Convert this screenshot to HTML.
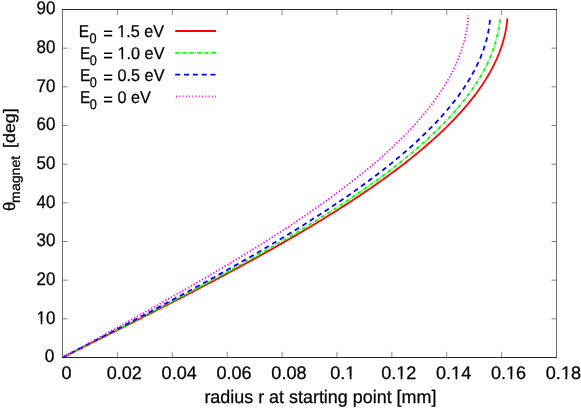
<!DOCTYPE html><html><head><meta charset="utf-8"><style>html,body{margin:0;padding:0;background:#fff;overflow:hidden}svg{display:block;will-change:transform}text{text-rendering:geometricPrecision;font-family:"Liberation Sans",sans-serif;fill:#000;stroke:#000;stroke-width:0.25px}</style></head><body>
<svg width="581" height="409" viewBox="0 0 581 409">
<rect width="581" height="409" fill="#fff"/>
<polyline points="62.50,357.50 67.37,355.08 72.24,352.65 77.10,350.23 81.97,347.81 86.83,345.39 91.69,342.96 96.55,340.54 101.40,338.12 106.25,335.70 111.09,333.27 115.93,330.85 120.76,328.43 125.59,326.00 130.40,323.58 135.21,321.16 140.01,318.74 144.80,316.31 149.58,313.89 154.35,311.47 159.11,309.05 163.86,306.62 168.59,304.20 173.31,301.78 178.02,299.35 182.72,296.93 187.40,294.51 192.07,292.09 196.72,289.66 201.35,287.24 205.97,284.82 210.57,282.39 215.15,279.97 219.72,277.55 224.26,275.13 228.79,272.70 233.30,270.28 237.78,267.86 242.25,265.44 246.69,263.01 251.12,260.59 255.51,258.17 259.89,255.74 264.24,253.32 268.57,250.90 272.88,248.48 277.15,246.05 281.41,243.63 285.63,241.21 289.83,238.79 294.01,236.36 298.15,233.94 302.27,231.52 306.36,229.09 310.42,226.67 314.45,224.25 318.45,221.83 322.42,219.40 326.35,216.98 330.26,214.56 334.13,212.14 337.98,209.71 341.79,207.29 345.56,204.87 349.30,202.44 353.01,200.02 356.68,197.60 360.32,195.18 363.92,192.75 367.49,190.33 371.02,187.91 374.51,185.49 377.96,183.06 381.38,180.64 384.76,178.22 388.10,175.79 391.40,173.37 394.66,170.95 397.89,168.53 401.07,166.10 404.21,163.68 407.31,161.26 410.37,158.84 413.39,156.41 416.37,153.99 419.30,151.57 422.19,149.14 425.04,146.72 427.85,144.30 430.61,141.88 433.32,139.45 436.00,137.03 438.63,134.61 441.21,132.18 443.75,129.76 446.24,127.34 448.69,124.92 451.09,122.49 453.44,120.07 455.75,117.65 458.01,115.23 460.22,112.80 462.39,110.38 464.50,107.96 466.57,105.53 468.59,103.11 470.57,100.69 472.49,98.27 474.36,95.84 476.19,93.42 477.97,91.00 479.69,88.58 481.37,86.15 482.99,83.73 484.57,81.31 486.10,78.88 487.57,76.46 488.99,74.04 490.37,71.62 491.69,69.19 492.96,66.77 494.18,64.35 495.35,61.93 496.46,59.50 497.53,57.08 498.54,54.66 499.50,52.23 500.40,49.81 501.26,47.39 502.06,44.97 502.81,42.54 503.51,40.12 504.15,37.70 504.74,35.28 505.28,32.85 505.77,30.43 506.20,28.01 506.58,25.58 506.91,23.16 507.18,20.74 507.40,18.32" fill="none" stroke="#ff0000" stroke-width="1.8"/>
<polyline points="62.50,357.50 67.28,355.08 72.05,352.67 76.83,350.25 81.60,347.83 86.37,345.42 91.14,343.00 95.90,340.58 100.66,338.17 105.41,335.75 110.16,333.33 114.91,330.92 119.65,328.50 124.38,326.08 129.10,323.67 133.82,321.25 138.53,318.83 143.23,316.42 147.92,314.00 152.59,311.58 157.26,309.17 161.92,306.75 166.57,304.33 171.20,301.92 175.82,299.50 180.42,297.08 185.02,294.67 189.59,292.25 194.16,289.83 198.70,287.42 203.23,285.00 207.75,282.58 212.25,280.17 216.72,277.75 221.18,275.33 225.63,272.92 230.05,270.50 234.45,268.08 238.83,265.67 243.19,263.25 247.53,260.83 251.85,258.42 256.15,256.00 260.42,253.58 264.67,251.17 268.89,248.75 273.09,246.33 277.26,243.92 281.41,241.50 285.54,239.08 289.63,236.67 293.70,234.25 297.74,231.83 301.76,229.42 305.74,227.00 309.70,224.58 313.63,222.17 317.52,219.75 321.39,217.33 325.23,214.92 329.03,212.50 332.80,210.08 336.55,207.67 340.25,205.25 343.93,202.83 347.57,200.42 351.18,198.00 354.75,195.58 358.29,193.17 361.79,190.75 365.26,188.33 368.69,185.92 372.09,183.50 375.45,181.08 378.77,178.67 382.05,176.25 385.30,173.83 388.51,171.42 391.68,169.00 394.80,166.58 397.89,164.17 400.94,161.75 403.95,159.33 406.92,156.92 409.85,154.50 412.74,152.08 415.58,149.67 418.39,147.25 421.15,144.83 423.86,142.42 426.54,140.00 429.17,137.58 431.76,135.17 434.30,132.75 436.80,130.33 439.26,127.92 441.67,125.50 444.03,123.08 446.35,120.67 448.63,118.25 450.86,115.83 453.04,113.42 455.17,111.00 457.26,108.58 459.31,106.17 461.30,103.75 463.25,101.33 465.15,98.92 467.00,96.50 468.80,94.08 470.56,91.67 472.26,89.25 473.92,86.83 475.53,84.42 477.09,82.00 478.60,79.58 480.06,77.17 481.47,74.75 482.84,72.33 484.15,69.92 485.41,67.50 486.62,65.08 487.78,62.67 488.89,60.25 489.95,57.83 490.96,55.42 491.91,53.00 492.82,50.58 493.67,48.17 494.48,45.75 495.23,43.33 495.93,40.92 496.58,38.50 497.18,36.08 497.72,33.67 498.22,31.25 498.66,28.83 499.05,26.42 499.39,24.00 499.68,21.58 499.91,19.17" fill="none" stroke="#00ff00" stroke-width="1.8" stroke-dasharray="3.8 1.35 0.85 1.35"/>
<polyline points="62.50,357.50 67.16,355.09 71.81,352.68 76.47,350.27 81.13,347.86 85.78,345.44 90.43,343.03 95.07,340.62 99.72,338.21 104.35,335.80 108.99,333.39 113.61,330.98 118.24,328.57 122.85,326.16 127.46,323.74 132.06,321.33 136.65,318.92 141.23,316.51 145.81,314.10 150.37,311.69 154.92,309.28 159.47,306.87 164.00,304.45 168.51,302.04 173.02,299.63 177.51,297.22 181.99,294.81 186.46,292.40 190.91,289.99 195.35,287.58 199.77,285.17 204.17,282.75 208.56,280.34 212.93,277.93 217.28,275.52 221.61,273.11 225.92,270.70 230.22,268.29 234.50,265.88 238.75,263.47 242.98,261.05 247.20,258.64 251.39,256.23 255.56,253.82 259.70,251.41 263.82,249.00 267.92,246.59 272.00,244.18 276.04,241.77 280.07,239.35 284.07,236.94 288.04,234.53 291.98,232.12 295.90,229.71 299.79,227.30 303.65,224.89 307.49,222.48 311.29,220.06 315.07,217.65 318.81,215.24 322.53,212.83 326.21,210.42 329.86,208.01 333.49,205.60 337.07,203.19 340.63,200.78 344.16,198.36 347.65,195.95 351.10,193.54 354.52,191.13 357.91,188.72 361.26,186.31 364.58,183.90 367.86,181.49 371.11,179.08 374.32,176.66 377.49,174.25 380.62,171.84 383.72,169.43 386.78,167.02 389.80,164.61 392.78,162.20 395.72,159.79 398.63,157.38 401.49,154.96 404.31,152.55 407.10,150.14 409.84,147.73 412.54,145.32 415.20,142.91 417.82,140.50 420.39,138.09 422.92,135.67 425.41,133.26 427.86,130.85 430.27,128.44 432.63,126.03 434.94,123.62 437.21,121.21 439.44,118.80 441.63,116.39 443.77,113.97 445.86,111.56 447.91,109.15 449.91,106.74 451.87,104.33 453.78,101.92 455.64,99.51 457.46,97.10 459.23,94.69 460.95,92.27 462.63,89.86 464.26,87.45 465.84,85.04 467.37,82.63 468.86,80.22 470.30,77.81 471.68,75.40 473.03,72.99 474.32,70.57 475.56,68.16 476.76,65.75 477.90,63.34 479.00,60.93 480.04,58.52 481.04,56.11 481.99,53.70 482.89,51.28 483.74,48.87 484.53,46.46 485.28,44.05 485.98,41.64 486.63,39.23 487.23,36.82 487.78,34.41 488.27,32.00 488.72,29.58 489.12,27.17 489.46,24.76 489.76,22.35 490.00,19.94" fill="none" stroke="#0000ff" stroke-width="1.8" stroke-dasharray="5 3.83"/>
<polyline points="62.50,357.50 66.98,355.06 71.45,352.61 75.93,350.17 80.41,347.72 84.88,345.28 89.35,342.83 93.81,340.39 98.28,337.95 102.73,335.50 107.19,333.06 111.63,330.61 116.08,328.17 120.51,325.72 124.94,323.28 129.36,320.84 133.77,318.39 138.18,315.95 142.57,313.50 146.96,311.06 151.33,308.61 155.69,306.17 160.05,303.73 164.39,301.28 168.71,298.84 173.03,296.39 177.33,293.95 181.62,291.50 185.89,289.06 190.15,286.62 194.39,284.17 198.62,281.73 202.83,279.28 207.02,276.84 211.20,274.39 215.35,271.95 219.49,269.51 223.61,267.06 227.71,264.62 231.79,262.17 235.85,259.73 239.89,257.28 243.91,254.84 247.90,252.40 251.87,249.95 255.82,247.51 259.75,245.06 263.65,242.62 267.52,240.17 271.38,237.73 275.20,235.29 279.00,232.84 282.78,230.40 286.52,227.95 290.24,225.51 293.94,223.06 297.60,220.62 301.24,218.18 304.84,215.73 308.42,213.29 311.97,210.84 315.48,208.40 318.97,205.95 322.42,203.51 325.85,201.07 329.24,198.62 332.60,196.18 335.92,193.73 339.22,191.29 342.47,188.84 345.70,186.40 348.89,183.96 352.04,181.51 355.16,179.07 358.25,176.62 361.30,174.18 364.31,171.73 367.28,169.29 370.22,166.85 373.12,164.40 375.99,161.96 378.81,159.51 381.60,157.07 384.34,154.62 387.05,152.18 389.72,149.74 392.35,147.29 394.94,144.85 397.49,142.40 399.99,139.96 402.46,137.51 404.89,135.07 407.27,132.63 409.61,130.18 411.91,127.74 414.17,125.29 416.38,122.85 418.55,120.40 420.68,117.96 422.76,115.52 424.80,113.07 426.80,110.63 428.75,108.18 430.66,105.74 432.52,103.29 434.34,100.85 436.11,98.41 437.83,95.96 439.51,93.52 441.15,91.07 442.74,88.63 444.28,86.18 445.78,83.74 447.22,81.30 448.63,78.85 449.98,76.41 451.29,73.96 452.55,71.52 453.76,69.07 454.93,66.63 456.05,64.19 457.12,61.74 458.14,59.30 459.11,56.85 460.04,54.41 460.92,51.96 461.75,49.52 462.53,47.08 463.26,44.63 463.94,42.19 464.57,39.74 465.16,37.30 465.70,34.85 466.18,32.41 466.62,29.97 467.01,27.52 467.35,25.08 467.64,22.63 467.88,20.19 468.07,17.74 468.21,15.30" fill="none" stroke="#ff00ff" stroke-width="1.8" stroke-dasharray="1.35 1.91"/>
<path d="M62.5 9.0V358.0M556.5 9.0V358.0" stroke="#6e6e6e" stroke-width="1" fill="none"/>
<path d="M62.0 9.5H557.0M62.0 357.5H557.0" stroke="#262626" stroke-width="1" fill="none"/>
<path d="M117.39 357.0v-5.1M117.39 10.0v5.1M172.28 357.0v-5.1M172.28 10.0v5.1M227.17 357.0v-5.1M227.17 10.0v5.1M282.06 357.0v-5.1M282.06 10.0v5.1M336.94 357.0v-5.1M336.94 10.0v5.1M391.83 357.0v-5.1M391.83 10.0v5.1M446.72 357.0v-5.1M446.72 10.0v5.1M501.61 357.0v-5.1M501.61 10.0v5.1" stroke="#666" stroke-width="0.75" fill="none"/>
<path d="M63.0 318.83h4.5M556.0 318.83h-4.5M63.0 280.17h4.5M556.0 280.17h-4.5M63.0 241.50h4.5M556.0 241.50h-4.5M63.0 202.83h4.5M556.0 202.83h-4.5M63.0 164.17h4.5M556.0 164.17h-4.5M63.0 125.50h4.5M556.0 125.50h-4.5M63.0 86.83h4.5M556.0 86.83h-4.5M63.0 48.17h4.5M556.0 48.17h-4.5" stroke="#4a4a4a" stroke-width="0.7" fill="none"/>
<rect x="70" y="47.75" width="1" height="0.9" fill="#8a8a8a"/>
<text transform="translate(54.40,362.00) scale(0.945,1)" font-size="18.2" text-anchor="end">0</text>
<text transform="translate(55.40,324.00) scale(0.93,1)" font-size="18.2" text-anchor="end">10</text>
<text transform="translate(55.40,285.00) scale(0.93,1)" font-size="18.2" text-anchor="end">20</text>
<text transform="translate(55.40,246.00) scale(0.93,1)" font-size="18.2" text-anchor="end">30</text>
<text transform="translate(55.40,208.00) scale(0.93,1)" font-size="18.2" text-anchor="end">40</text>
<text transform="translate(55.40,169.00) scale(0.93,1)" font-size="18.2" text-anchor="end">50</text>
<text transform="translate(55.40,130.00) scale(0.93,1)" font-size="18.2" text-anchor="end">60</text>
<text transform="translate(55.40,92.00) scale(0.93,1)" font-size="18.2" text-anchor="end">70</text>
<text transform="translate(55.40,53.00) scale(0.93,1)" font-size="18.2" text-anchor="end">80</text>
<text transform="translate(55.40,14.00) scale(0.93,1)" font-size="18.2" text-anchor="end">90</text>
<text transform="translate(61.40,379.00) scale(0.994,1)" font-size="18.2" text-anchor="start">0</text>
<text transform="translate(106.69,379.00) scale(0.994,1)" font-size="18.2" text-anchor="start">0.02</text>
<text transform="translate(161.58,379.00) scale(0.994,1)" font-size="18.2" text-anchor="start">0.04</text>
<text transform="translate(216.47,379.00) scale(0.994,1)" font-size="18.2" text-anchor="start">0.06</text>
<text transform="translate(271.36,379.00) scale(0.994,1)" font-size="18.2" text-anchor="start">0.08</text>
<text transform="translate(330.24,379.00) scale(0.994,1)" font-size="18.2" text-anchor="start">0.1</text>
<text transform="translate(381.13,379.00) scale(0.994,1)" font-size="18.2" text-anchor="start">0.12</text>
<text transform="translate(436.02,379.00) scale(0.994,1)" font-size="18.2" text-anchor="start">0.14</text>
<text transform="translate(490.91,379.00) scale(0.994,1)" font-size="18.2" text-anchor="start">0.16</text>
<text transform="translate(545.80,379.00) scale(0.994,1)" font-size="18.2" text-anchor="start">0.18</text>
<text transform="translate(204.40,403.00) scale(0.985,1)" font-size="18.2" text-anchor="start">radius r at starting point [mm]</text>
<text transform="translate(15.20,211.00) rotate(-90) scale(0.99,1)" font-size="16.8">θ</text>
<text transform="translate(19.60,202.90) rotate(-90) scale(1.04,1)" font-size="13.6">magnet</text>
<text transform="translate(14.90,148.00) rotate(-90) scale(1.075,1)" font-size="16.6">[deg]</text>
<text transform="translate(78.85,37.00) scale(0.91,1)" font-size="17.0" text-anchor="start">E</text>
<text transform="translate(89.55,42.50) scale(0.92,1)" font-size="13.85" text-anchor="start">0</text>
<text transform="translate(103.15,39.00) scale(0.97,1)" font-size="17.0" text-anchor="start">=</text>
<text transform="translate(117.30,37.00) scale(0.953,1)" font-size="17.0" text-anchor="start">1.5 eV</text>
<path d="M175.2 31.0H216" stroke="#ff0000" stroke-width="1.8" fill="none"/>
<text transform="translate(79.90,59.00) scale(0.91,1)" font-size="17.0" text-anchor="start">E</text>
<text transform="translate(89.70,64.50) scale(0.92,1)" font-size="13.85" text-anchor="start">0</text>
<text transform="translate(103.30,61.00) scale(0.97,1)" font-size="17.0" text-anchor="start">=</text>
<text transform="translate(117.60,59.00) scale(0.953,1)" font-size="17.0" text-anchor="start">1.0 eV</text>
<path d="M175.2 52.95H216" stroke="#00ff00" stroke-width="1.8" fill="none" stroke-dasharray="3.8 1.35 0.85 1.35"/>
<text transform="translate(79.90,81.00) scale(0.91,1)" font-size="17.0" text-anchor="start">E</text>
<text transform="translate(89.70,86.50) scale(0.92,1)" font-size="13.85" text-anchor="start">0</text>
<text transform="translate(103.30,83.00) scale(0.97,1)" font-size="17.0" text-anchor="start">=</text>
<text transform="translate(117.60,81.00) scale(0.953,1)" font-size="17.0" text-anchor="start">0.5 eV</text>
<path d="M175.2 74.7H216" stroke="#0000ff" stroke-width="1.8" fill="none" stroke-dasharray="5 3.83"/>
<text transform="translate(79.90,103.00) scale(0.91,1)" font-size="17.0" text-anchor="start">E</text>
<text transform="translate(89.70,108.50) scale(0.92,1)" font-size="13.85" text-anchor="start">0</text>
<text transform="translate(103.30,105.00) scale(0.97,1)" font-size="17.0" text-anchor="start">=</text>
<text transform="translate(117.60,103.00) scale(0.953,1)" font-size="17.0" text-anchor="start">0 eV</text>
<path d="M175.2 96.4H216" stroke="#ff00ff" stroke-width="1.6" fill="none" stroke-dasharray="1.0 2.26" stroke-dashoffset="2.46"/>
<g transform="translate(55.40,324.00) scale(0.93,1)" fill="#fff"><rect x="-19.86" y="-2.46" width="4.07" height="3.66"/><rect x="-13.94" y="-2.46" width="3.93" height="3.66"/></g>
<g transform="translate(330.24,379.00) scale(0.994,1)" fill="#fff"><rect x="15.56" y="-2.46" width="4.07" height="3.66"/><rect x="21.48" y="-2.46" width="3.93" height="3.66"/></g>
<g transform="translate(381.13,379.00) scale(0.994,1)" fill="#fff"><rect x="15.56" y="-2.46" width="4.07" height="3.66"/><rect x="21.48" y="-2.46" width="3.93" height="3.66"/></g>
<g transform="translate(436.02,379.00) scale(0.994,1)" fill="#fff"><rect x="15.56" y="-2.46" width="4.07" height="3.66"/><rect x="21.48" y="-2.46" width="3.93" height="3.66"/></g>
<g transform="translate(490.91,379.00) scale(0.994,1)" fill="#fff"><rect x="15.56" y="-2.46" width="4.07" height="3.66"/><rect x="21.48" y="-2.46" width="3.93" height="3.66"/></g>
<g transform="translate(545.80,379.00) scale(0.994,1)" fill="#fff"><rect x="15.56" y="-2.46" width="4.07" height="3.66"/><rect x="21.48" y="-2.46" width="3.93" height="3.66"/></g>
<g transform="translate(117.30,37.00) scale(0.953,1)" fill="#fff"><rect x="0.29" y="-2.37" width="3.86" height="3.57"/><rect x="5.90" y="-2.37" width="3.73" height="3.57"/></g>
<g transform="translate(117.60,59.00) scale(0.953,1)" fill="#fff"><rect x="0.29" y="-2.37" width="3.86" height="3.57"/><rect x="5.90" y="-2.37" width="3.73" height="3.57"/></g>
</svg></body></html>
